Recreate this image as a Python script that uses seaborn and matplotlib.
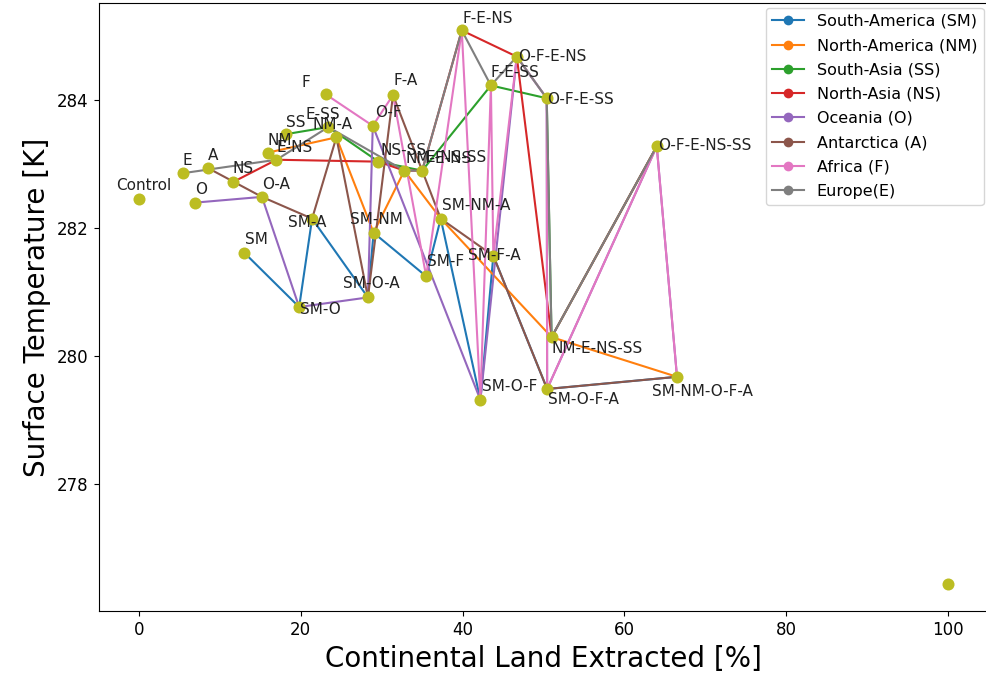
import matplotlib
matplotlib.use('Agg')
import matplotlib.pyplot as plt
import pandas as pd
import seaborn as sns

# experiment labels, land extracted (%) and surface temperature (K)
labels = ['Control', 'E', 'O', 'A', 'NS', 'SM', 'O-A', 'NM', 'E-NS', 'SS',
          'SM-O', 'SM-A', 'F', 'E-SS', 'NM-A', 'SM-O-A', 'O-F', 'SM-NM',
          'NS-SS', 'F-A', 'NM-E-NS', 'E-NS-SS', 'SM-F', 'SM-NM-A', 'F-E-NS',
          'SM-O-F', 'F-E-SS', 'SM-F-A', 'O-F-E-NS', 'O-F-E-SS', 'SM-O-F-A',
          'NM-E-NS-SS', 'O-F-E-NS-SS', 'SM-NM-O-F-A', 'All']
land = [0.0, 5.44, 6.92, 8.53, 11.6, 13.0, 15.2, 15.9, 17.0, 18.2,
        19.8, 21.4, 23.1, 23.4, 24.4, 28.3, 28.9, 29.0,
        29.6, 31.4, 32.8, 35.0, 35.5, 37.3, 39.9,
        42.2, 43.5, 43.8, 46.7, 50.4, 50.45,
        51.0, 64.0, 66.5, 100.0]
temp = [282.46, 282.86, 282.40, 282.94, 282.72, 281.62, 282.49, 283.18, 283.07, 283.47,
        280.77, 282.15, 284.09, 283.58, 283.42, 280.92, 283.60, 281.93,
        283.04, 284.08, 282.90, 282.90, 281.25, 282.15, 285.09,
        279.32, 284.23, 281.57, 284.68, 284.03, 279.49,
        280.30, 283.28, 279.68, 276.45]

regions = ['SM', 'NM', 'SS', 'NS', 'O', 'A', 'F', 'E']
region_names = ['South-America (SM)', 'North-America (NM)', 'South-Asia (SS)',
                'North-Asia (NS)', 'Oceania (O)', 'Antarctica (A)', 'Africa (F)',
                'Europe(E)']

# label offsets in pixels (dx, dy), text anchored at its lower left corner
offsets = {
    'Control': (-23, 6), 'E': (0, 5), 'O': (0, 6), 'A': (0, 5), 'NS': (0, 6),
    'SM': (1, 6), 'O-A': (0, 5), 'NM': (0, 5), 'E-NS': (0, 5), 'SS': (0, 4),
    'SM-O': (1, -10), 'SM-A': (-24, -11), 'F': (-24, 4), 'E-SS': (-23, 5),
    'NM-A': (-24, 5), 'SM-O-A': (-25, 6), 'O-F': (2, 6), 'SM-NM': (-24, 6),
    'NS-SS': (2, 4), 'F-A': (0, 7), 'NM-E-NS': (1, 5), 'E-NS-SS': (3, 6),
    'SM-F': (1, 7), 'SM-NM-A': (1, 6), 'F-E-NS': (1, 4), 'SM-O-F': (2, 6),
    'F-E-SS': (0, 5), 'SM-F-A': (-25, -7), 'O-F-E-NS': (1, -7),
    'O-F-E-SS': (0, -9), 'SM-O-F-A': (1, -18), 'NM-E-NS-SS': (0, -19),
    'O-F-E-NS-SS': (1, -7), 'SM-NM-O-F-A': (-25, -22),
}

df = pd.DataFrame({'label': labels, 'land': land, 'temp': temp})

fig, ax = plt.subplots(figsize=(9.87, 6.8), dpi=100)
fig.subplots_adjust(left=0.0998, right=1.0015, top=0.996, bottom=0.101)

palette = sns.color_palette('tab10')
for i, (code, name) in enumerate(zip(regions, region_names)):
    sub = df[df['label'].apply(lambda s: code in s.split('-'))]
    sns.lineplot(data=sub, x='land', y='temp', estimator=None, sort=True,
                 marker='o', color=palette[i], markeredgecolor=palette[i],
                 markeredgewidth=0, markersize=7, linewidth=1.5,
                 label=name, ax=ax)

sns.scatterplot(data=df, x='land', y='temp', color=palette[8], s=75,
                linewidth=0, zorder=5, ax=ax, legend=False)

for lab, xv, yv in zip(labels, land, temp):
    if lab not in offsets:
        continue
    dx, dy = offsets[lab]
    ax.annotate(lab, (xv, yv), xytext=(dx, dy), textcoords='offset pixels',
                ha='left', va='bottom', fontsize=11, color='#222222', zorder=6)

ax.set_xlabel('Continental Land Extracted [%]', fontsize=20)
ax.set_ylabel('Surface Temperature [K]', fontsize=20)
ax.tick_params(labelsize=12)
ax.set_xticks([0, 20, 40, 60, 80, 100])
ax.set_yticks([278, 280, 282, 284])
ax.legend(loc='upper right', fontsize=11.5, borderaxespad=0.3,
          labelspacing=0.58)

plt.savefig('out.png', dpi=100)
